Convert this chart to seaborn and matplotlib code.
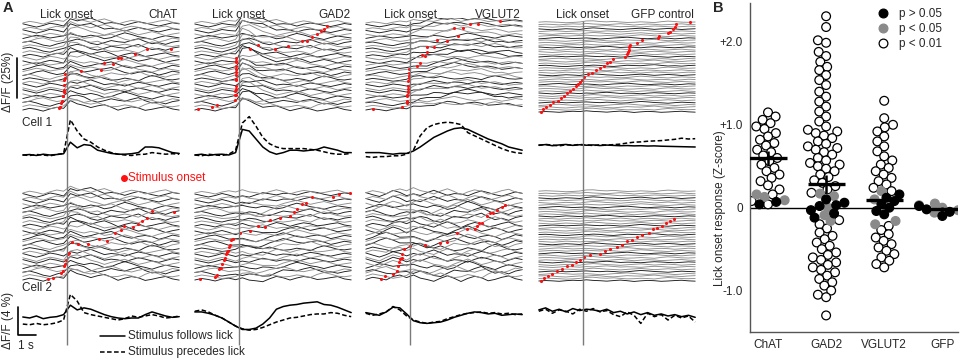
import numpy as np
import pandas as pd
import matplotlib
matplotlib.use("Agg")
import matplotlib.pyplot as plt
import seaborn as sns
from matplotlib.lines import Line2D

sns.set_theme(style="white")
plt.rcParams["font.family"] = ["Liberation Sans", "DejaVu Sans"]

NA = np.nan

# ------------------------------------------------------------------ data
columns = ["ChAT", "GAD2", "VGLUT2", "GFP control"]
time_s = np.round(np.arange(-2.6, 6.61, 0.4), 2)  # 24 samples, lick onset at 0

# mean traces, Cell 1 (% dF/F)
c1_follow = {
    "ChAT": [0, .3, -.3, .5, 0, .3, .8, 8, 4.5, 6.5, 6, 3, 2, 1, .5, .5, .8, 1.5, 5, 5, 4.5, 3, 1.5, 1],
    "GAD2": [0, .5, -.3, .3, .5, 0, 1.5, 16, 15, 10, 5, 2, .5, 1.5, 3, 3, 2.5, 3, 3.5, 5, 4, 3, 1.5, 1.5],
    "VGLUT2": [1.5, 1.5, 1.5, 1, .5, 1, 1, 2.5, 5, 8, 11, 13, 15, 16.5, 17, 16, 14, 12, 10, 8.5, 7, 5, 4, 3],
    "GFP control": [6.2, 6.5, 5.8, 6.3, 6.6, 6, 6.4, 6.1, 6.3, 5.9, 6.2, 6.0, 5.8, 5.9, 5.7, 5.8, 5.6, 5.7, 5.5, 5.4, 5.3, 5.2, 5.1, 5.0],
}
c1_precede = {
    "ChAT": [0, -.3, .3, 0, -.5, .3, 1, 22, 15, 10, 8, 5, 3, 1.5, .5, 0, -.3, .3, .5, 1.5, 1, .5, .8, .5],
    "GAD2": [0, -.5, .5, 0, -.3, .5, 3, 20, 24, 18, 11, 7, 5, 4, 4, 4, 4, 3.5, 3, 2, 1, .5, .5, 1],
    "VGLUT2": [-1, -1.5, -1, -1, -.5, -.5, .5, 3, 12, 17, 19, 20, 20.5, 20, 19, 14, 12, 10, 8, 6, 4, 2.5, 1.5, 1],
    "GFP control": [6.0, 6.6, 6.2, 5.7, 6.4, 6.1, 6.6, 6.3, 5.9, 6.4, 6.2, 6.5, 6.8, 7.5, 8, 8.2, 8.6, 8.8, 9, 9.4, 9.8, 10.5, 10, 10.2],
}
# mean traces, Cell 2 (% dF/F)
c2_follow = {
    "ChAT": [.15, 0, .3, -.1, .1, .2, .5, 1.9, 1.2, 1.5, 1.3, .9, .5, .2, 0, -.1, 0, 0, .5, .9, .6, .3, .1, .2],
    "GAD2": [.9, .9, .7, .4, 0, -.6, -1.2, -1.7, -1.7, -1.5, -.9, 0, 1.3, 1.7, 1.9, 2.0, 2.2, 2.3, 2.4, 2.0, 1.9, 1.6, 1.2, .8],
    "VGLUT2": [.8, .6, .4, .9, 1.6, 1.5, .6, -.4, -.7, -.8, -.7, -.6, -.3, .1, .4, .7, .9, .8, .6, .7, .4, .5, .6, .5],
    "GFP control": [1.2, 1.5, 1.0, 1.3, .9, 1.4, 1.1, 1.3, 1.2, 1.0, 1.3, .8, 1.0, .6, .9, .5, .8, .4, .6, .3, .5, .2, .4, .1],
}
c2_precede = {
    "ChAT": [-.9, -1.0, -.8, -1.0, -.9, -.7, -.3, 3.5, 2.5, .8, .5, .3, .1, -.1, -.3, -.1, .3, .1, .3, .5, .3, 0, .1, .3],
    "GAD2": [1.0, 1.2, .9, .4, 0, -.6, -1.2, -1.6, -1.8, -1.7, -1.4, -1.0, -.6, -.3, 0, .1, .3, .5, .6, .6, .8, .7, .4, .2],
    "VGLUT2": [.7, .4, .6, .9, 1.7, 1.2, .3, -.3, -.6, -.8, -.6, -.5, -.1, .2, .5, .7, .8, .9, .7, .8, .6, .7, .5, .6],
    "GFP control": [1.0, 1.3, .7, 1.2, 1.0, .6, 1.3, 1.0, 1.4, .9, 1.1, .5, .2, .9, .4, -.8, .7, .2, .5, -.3, .4, 0, .3, -.6],
}

# stimulus onset (s) per trial, bottom trial first (NA = outside window)
stim_top = {
    "ChAT": [-.5, -.4, -.35, -.3, -.25, -.25, -.2, -.2, -.15, -.15, -.1, -.1, .8, 2.0, 2.2, 2.7, 3.0, 3.2, 4.0, 4.7,
             6.1, NA, NA, NA, NA, NA, NA, NA, NA, NA],
    "GAD2": [-2.4, -1.6, -1.3, -.25, -.22, -.2, -.22, -.18, -.2, -.2, -.18, -.2, -.17, -.2, -.18, -.15, -.18, -.15,
             .65, 1.1, 2.1, 2.9, 3.7, 4.0, 4.3, 4.6, 4.8, 5.0, 5.2, NA],
    "VGLUT2": [-2.2, -.5, -.2, -.18, -.15, -.15, -.12, -.12, -.1, -.1, -.08, -.08, -.05, -.05, .4, .6, .7, .9, 1.0,
               1.0, 1.4, 1.6, 2.2, 2.6, 2.8, 3.1, 3.5, 4.0, 5.3, NA],
    "GFP control": [-2.5, -2.35, -2.2, -1.95, -1.75, -1.5, -1.3, -1.1, -.95, -.75, -.6, -.4, -.3, -.2, -.05, .05, .3,
                    .55, .75, 1.0, 1.25, 1.4, 1.6, 1.75, 2.45, 2.6, 2.65, 2.7, 2.7, 2.75, 3.2, 3.5, 4.4, 4.5, 5.0,
                    5.1, 5.3, 5.4, 5.5, 6.3],
}
stim_bot = {
    "ChAT": [-1.1, -.8, -.35, -.25, -.2, -.1, -.05, .05, .1, .3, .65, 1.25, 1.9, 2.35, 2.8, 3.2, 3.35, 3.9, 4.2, 4.4,
             4.7, 5.0, 6.3, NA, NA, NA, NA, NA, NA, NA],
    "GAD2": [-2.3, -1.4, -1.3, -1.2, -1.05, -1.0, -.9, -.8, -.75, -.7, -.65, -.6, -.55, -.5, -.35, .05, .65, 1.1, 1.5,
             1.8, 2.4, 3.0, 3.25, 3.4, 3.7, 3.95, 4.3, 5.5, 5.9, 6.5],
    "VGLUT2": [-1.7, -1.5, -1.0, -.75, -.7, -.65, -.6, -.5, -.45, -.35, 0.0, .9, 1.75, 2.2, 2.75, 3.35, 3.8, 3.95, 4.05,
               4.25, 4.5, 4.7, 4.9, 5.1, 5.4, 5.6, NA, NA, NA, NA],
    "GFP control": [-2.45, -2.3, -2.05, -1.8, -1.55, -1.25, -.95, -.65, -.4, -.2, .05, .4, 1.0, 1.3, 1.6, 2.0, 2.3,
                    2.6, 2.9, 3.2, 3.5, 3.9, 4.1, 4.35, 4.65, 4.9, 5.1, 5.35, NA, NA, NA, NA, NA, NA, NA, NA, NA, NA,
                    NA, NA],
}

# single-trial fluctuation shapes and lick-locked response shapes
trial_shapes = [
    [0, .3, .1, -.2, .2, .5, .3, .8, .4, .2, -.1, .3, .6, .2, -.3, .1, .4, .2, -.2, 0, .3, .5, .1, -.1],
    [.2, -.1, -.4, 0, .3, .1, -.2, .5, .9, .6, .2, 0, -.3, .1, .4, .7, .3, -.1, .2, .5, .2, -.2, .1, .3],
    [-.3, 0, .4, .6, .2, -.1, .1, .3, 0, -.4, -.1, .3, .5, .8, .4, 0, -.2, .1, .3, .1, -.3, 0, .4, .2],
    [.1, .4, .2, 0, -.3, -.1, .2, .9, 1.0, .5, .3, .6, .2, -.1, 0, .3, .1, -.2, .4, .8, .5, .1, 0, .2],
    [.4, .1, -.2, .1, .5, .3, 0, .4, .2, .6, .9, .5, .1, .3, .2, -.1, .3, .6, .4, .1, -.1, .2, .5, .3],
    [-.1, .2, .5, .3, 0, .2, .4, .6, .3, .1, .4, .2, -.2, 0, .5, .9, .6, .2, 0, -.3, .1, .4, .2, 0],
    [.3, .5, .2, -.2, -.4, 0, .3, .2, .6, .4, -.1, -.3, .1, .5, .3, .2, .6, .9, .4, 0, .2, -.1, .3, .5],
]
trial_gain = [1.0, .4, 1.4, .2, .8, 1.2, .6]
resp_top = {
    "ChAT": [0, 0, 0, 0, 0, 0, 0, 1, .8, .7, .6, .5, .4, .35, .3, .25, .2, .2, .15, .15, .1, .1, .1, .1],
    "GAD2": [0, 0, 0, 0, 0, 0, .1, 1, .9, .6, .4, .25, .15, .1, .1, .05, .05, 0, 0, 0, 0, 0, 0, 0],
    "VGLUT2": [0, 0, 0, 0, 0, 0, 0, .1, .3, .5, .7, .8, .9, 1, 1, .95, .9, .85, .8, .75, .7, .65, .6, .55],
    "GFP control": [0] * 24,
}
resp_bot = {
    "ChAT": [0, 0, 0, 0, 0, 0, 0, 1, .8, .7, .6, .5, .4, .35, .3, .25, .2, .2, .15, .15, .1, .1, .1, .1],
    "GAD2": [0, 0, 0, 0, 0, -.2, -.4, -.6, -.7, -.6, -.4, -.1, .2, .4, .5, .5, .5, .5, .5, .4, .3, .3, .2, .2],
    "VGLUT2": [.2, .2, .3, .5, .7, .5, .1, -.2, -.3, -.3, -.2, -.1, 0, .1, .2, .3, .3, .3, .2, .2, .2, .2, .2, .2],
    "GFP control": [0] * 24,
}

# panel B: lick onset response (Z-score) per neuron
groups = ["ChAT", "GAD2", "VGLUT2", "GFP"]
z_p01 = {
    "ChAT": [1.15, 1.1, 1.06, 1.02, .98, .95, .9, .86, .82, .78, .75, .7, .67, .63, .6, .56, .52, .48, .44, .4,
             .36, .32, .27, .22, .16, .08, .04],
    "GAD2": [2.31, 2.18, 2.02, 1.99, 1.88, 1.83, 1.76, 1.7, 1.66, 1.6, 1.54, 1.48, 1.4, 1.34, 1.28, 1.22, 1.16,
             1.1, 1.04, .98, .94, .92, .9, .87, .84, .8, .77, .74, .72, .7, .67, .64, .6, .57, .54, .52, .5, .47,
             .44, .4, .37, .33, .3, .26, .22, .18,
             -.15, -.2, -.25, -.3, -.34, -.38, -.42, -.46, -.5, -.54, -.57, -.6, -.63, -.66, -.69, -.72, -.75,
             -.78, -.82, -.86, -.9, -.94, -1.0, -1.05, -1.08, -1.3],
    "VGLUT2": [1.29, 1.08, 1.0, .97, .92, .86, .8, .74, .68, .62, .57, .52, .48, .44, .4, .36, .32, .28, .24, .2,
               -.22, -.27, -.32, -.36, -.4, -.44, -.48, -.52, -.56, -.6, -.64, -.68, -.72],
    "GFP": [],
}
z_p05 = {
    "ChAT": [.09, .13, .16],
    "GAD2": [.14, .17, -.09, -.16, 0.0],
    "VGLUT2": [.2, -.16, -.2, .1],
    "GFP": [.05, -.03, .03, -.06, 0.0],
}
z_ns = {
    "ChAT": [.04, .07, .1],
    "GAD2": [.06, .02, -.03, -.07, .1, -.12, .03],
    "VGLUT2": [0.0, .04, .08, -.04, .12, -.08, .16],
    "GFP": [-.05, -.1, 0.0, -.02, .02],
}
group_mean = [0.6, 0.29, 0.09, -0.01]
group_sem = [0.09, 0.11, 0.08, 0.02]
sig_labels = ["p > 0.05", "p < 0.05", "p < 0.01"]

# ------------------------------------------------------------------ layout
W, H = 964, 361
fig = plt.figure(figsize=(W / 100, H / 100), dpi=100)


def box(x0, y0, x1, y1):
    return [x0 / W, 1 - y1 / H, (x1 - x0) / W, (y1 - y0) / H]


LICK_PX = [67, 239, 410, 583]
PX_PER_S = 17
T_MIN, T_MAX = -2.65, 6.65
TOP_ROW0, BOT_ROW0 = 110, 280
C1_BASE, C2_BASE = 155, 318
C1_SCALE, C2_SCALE = 1.6, 6.75
NOISE_TOP = {"ChAT": 5.5, "GAD2": 5.0, "VGLUT2": 4.0, "GFP control": 1.5}
NOISE_BOT = {"ChAT": 6.0, "GAD2": 5.0, "VGLUT2": 7.0, "GFP control": 1.5}
RESP_TOP = {"ChAT": 5.0, "GAD2": 8.0, "VGLUT2": 7.0, "GFP control": 0}
RESP_BOT = {"ChAT": 5.0, "GAD2": 3.0, "VGLUT2": 3.0, "GFP control": 0}


def raster(name, stims, noise, resp, ramp, row0, tag):
    n = len(stims)
    spacing = 2.3 if n > 30 else 3.0
    recs, dots = [], []
    k = len(trial_shapes)
    for i, st in enumerate(stims):
        shape = np.array(trial_shapes[(i * 3 + i // k) % k])
        y = row0 - spacing * i - (noise * shape + ramp * trial_gain[i % k] * np.array(resp))
        if name == "GFP control":
            shade = "dark" if i % 4 == 0 else "light"
        else:
            shade = "dark" if i % 2 == 0 else "light"
        for t, v in zip(time_s, y):
            recs.append((f"{tag}{i}", t, v, shade))
        if not np.isnan(st):
            dots.append((st, np.interp(st, time_s, y)))
    return (pd.DataFrame(recs, columns=["trial", "t", "y", "shade"]),
            pd.DataFrame(dots, columns=["t", "y"]))


for c, name in enumerate(columns):
    x0 = LICK_PX[c] + T_MIN * PX_PER_S
    x1 = LICK_PX[c] + T_MAX * PX_PER_S
    ax = fig.add_axes(box(x0, 18, x1, 348))
    ax.set_xlim(T_MIN, T_MAX)
    ax.set_ylim(348, 18)
    ax.axis("off")
    for stims, noise, resp, ramp, row0, tag in [
        (stim_top[name], NOISE_TOP[name], resp_top[name], RESP_TOP[name], TOP_ROW0, "a"),
        (stim_bot[name], NOISE_BOT[name], resp_bot[name], RESP_BOT[name], BOT_ROW0, "b"),
    ]:
        if name == "GFP control":
            row0 = row0 + (2 if tag == "a" else 1)
        tr, dt = raster(name, stims, noise, resp, ramp, row0, tag)
        sns.lineplot(data=tr, x="t", y="y", units="trial", estimator=None, hue="shade",
                     palette={"dark": "#1c1c1c", "light": "#8e8e8e"}, linewidth=0.65,
                     sort=False, legend=False, ax=ax)
        sns.scatterplot(data=dt, x="t", y="y", color="#ff1010", s=5, linewidth=0,
                        legend=False, ax=ax, zorder=6)
    recs = []
    for part, base, scale, fol, pre in [("c1", C1_BASE, C1_SCALE, c1_follow, c1_precede),
                                        ("c2", C2_BASE, C2_SCALE, c2_follow, c2_precede)]:
        for t, v in zip(time_s, fol[name]):
            recs.append((part, "follows", t, base - scale * v))
        for t, v in zip(time_s, pre[name]):
            recs.append((part, "precedes", t, base - scale * v))
    md = pd.DataFrame(recs, columns=["part", "kind", "t", "y"])
    sns.lineplot(data=md, x="t", y="y", units="part", estimator=None, style="kind",
                 dashes={"follows": "", "precedes": (3, 1.6)}, color="black",
                 linewidth=1.1, sort=False, legend=False, ax=ax)
    ax.vlines(0, 21, 345, color="#7a7a7a", lw=1.0, zorder=7)

# ------------------------------------------------------------------ panel B
axb = fig.add_axes(box(750, 3, 958, 332))
rows = []
for g in groups:
    for v in z_p01[g]:
        rows.append((g, v, "p01"))
    for v in z_p05[g]:
        rows.append((g, v, "p05"))
    for v in z_ns[g]:
        rows.append((g, v, "ns"))
sdf = pd.DataFrame(rows, columns=["group", "z", "sig"])
axb.axhline(0, color="black", lw=1.0, zorder=0.5)
SWARM_PACK = 5.0   # spacing used for packing (points); markers are then drawn slightly larger
MARKER = 6.3
sns.swarmplot(data=sdf, x="group", y="z", hue="sig", order=groups,
              hue_order=["ns", "p05", "p01"],
              palette={"ns": "black", "p05": "#8a8a8a", "p01": "white"},
              size=SWARM_PACK, linewidth=0.9, edgecolor="black", legend=False, ax=axb, zorder=2)
xs = np.arange(len(groups))
axb.hlines(group_mean, xs - 0.32, xs + 0.32, color="black", lw=2.4, zorder=5)
axb.vlines(xs, np.array(group_mean) - np.array(group_sem), np.array(group_mean) + np.array(group_sem),
           color="black", lw=1.8, zorder=5)
axb.set_xlim(-0.31, 3.27)
axb.set_ylim(-1.5, 2.47)
axb.set_yticks([-1, 0, 1, 2])
axb.set_yticklabels(["-1.0", "0", "+1.0", "+2.0"])
axb.set_xlabel("")
axb.set_ylabel("Lick onset response (Z-score)", fontsize=8.5)
axb.yaxis.set_label_coords(-0.115, 0.378)
axb.tick_params(axis="both", direction="out", length=3, width=0.8, labelsize=8.5, pad=2, color="#444444")
for s in ["top", "right"]:
    axb.spines[s].set_visible(False)
for s in ["left", "bottom"]:
    axb.spines[s].set_color("#555555")
    axb.spines[s].set_linewidth(1.0)
handles = [Line2D([], [], ls="", marker="o", markersize=MARKER, mfc=fc, mec=ec, mew=0.9)
           for fc, ec in [("black", "black"), ("#8a8a8a", "#8a8a8a"), ("white", "black")]]
axb.legend(handles, sig_labels, loc="upper left", bbox_to_anchor=(877 / W, 1 - 8 / H),
           bbox_transform=fig.transFigure, frameon=False, fontsize=8.5, handlelength=1.0,
           handletextpad=0.9, labelspacing=0.25, borderpad=0, borderaxespad=0)

# pack the swarm once, then freeze positions and enlarge markers
fig.canvas.draw()
for coll in axb.collections:
    fc = coll.get_facecolors()
    if len(fc):
        if "draw" in coll.__dict__:
            del coll.__dict__["draw"]
        ec = np.array([[0.54, 0.54, 0.54, 1] if (0.3 < f[0] < 0.7) else [0, 0, 0, 1] for f in fc])
        coll.set_edgecolors(ec)
        coll.set_linewidths(0.9)
        coll.set_sizes([MARKER ** 2])

# ------------------------------------------------------------------ annotations (pixel overlay)
ov = fig.add_axes([0, 0, 1, 1], zorder=10)
ov.set_xlim(0, W)
ov.set_ylim(H, 0)
ov.axis("off")
ov.patch.set_alpha(0)
ov.text(3, 8, "A", fontsize=10.5, fontweight="bold", va="center", ha="left")
ov.text(713, 8, "B", fontsize=10.5, fontweight="bold", va="center", ha="left")
for c, name in enumerate(columns):
    ov.text(LICK_PX[c], 15, "Lick onset", fontsize=8.5, ha="center", va="center")
    ov.text(LICK_PX[c] + T_MAX * PX_PER_S - 2, 15, name, fontsize=8.5, ha="right", va="center")
ov.text(22, 123, "Cell 1", fontsize=8.5, ha="left", va="center")
ov.text(22, 288, "Cell 2", fontsize=8.5, ha="left", va="center")
ov.plot([124], [178], "o", color="#ff1010", ms=4)
ov.text(128, 178, "Stimulus onset", color="#ff1010", fontsize=8.5, ha="left", va="center")
ov.plot([17, 17], [58, 98], color="black", lw=1.2)
ov.text(8, 82, "ΔF/F (25%)", rotation=90, fontsize=8.5, ha="center", va="center")
ov.plot([18, 18, 36], [307, 335, 335], color="black", lw=1.2)
ov.text(8, 320, "ΔF/F (4 %)", rotation=90, fontsize=8.5, ha="center", va="center")
ov.text(18, 346, "1 s", fontsize=8.5, ha="left", va="center")
ov.plot([100, 125], [336, 336], color="black", lw=1.1)
ov.plot([100, 125], [352, 352], color="black", lw=1.1, dashes=(3, 1.6))
ov.text(128, 336, "Stimulus follows lick", fontsize=8.5, ha="left", va="center")
ov.text(128, 352, "Stimulus precedes lick", fontsize=8.5, ha="left", va="center")

fig.savefig("out.png", dpi=100)
